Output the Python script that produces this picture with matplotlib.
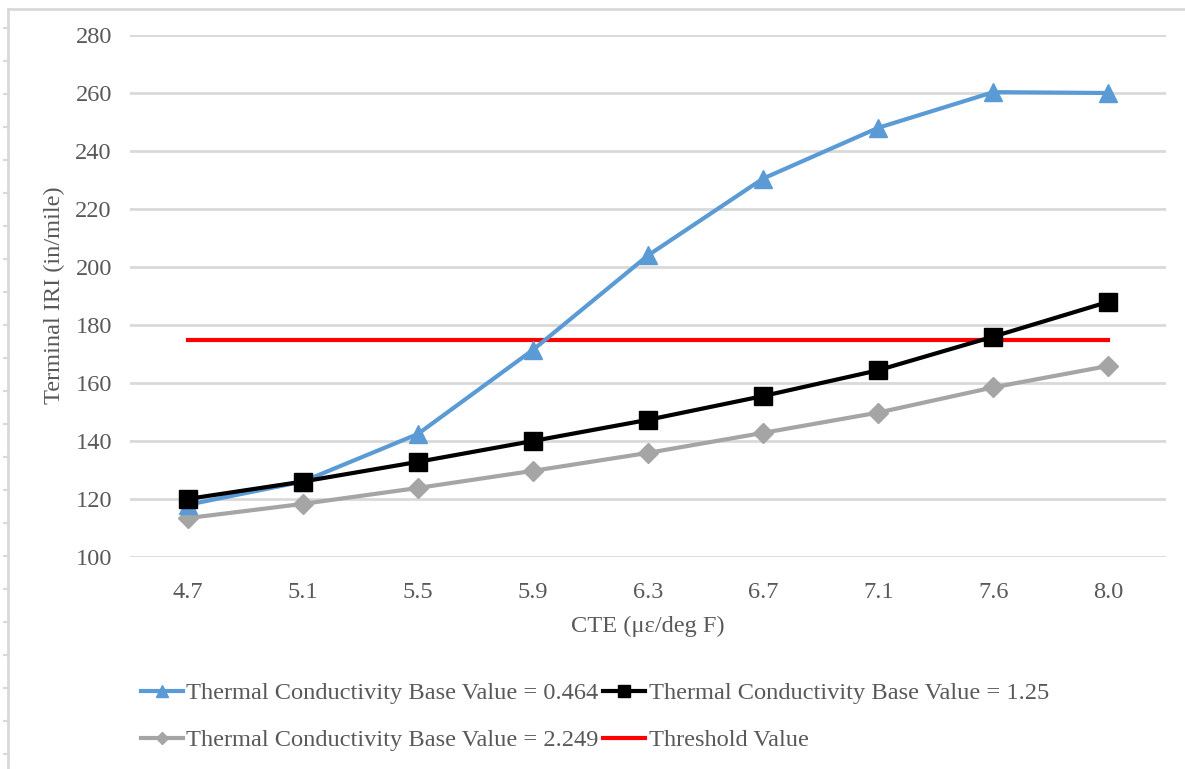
import numpy as np
import matplotlib.pyplot as plt
from matplotlib.lines import Line2D

plt.rcParams['font.family'] = ['Liberation Serif', 'DejaVu Serif']

# data
cte = ['4.7', '5.1', '5.5', '5.9', '6.3', '6.7', '7.1', '7.6', '8.0']
iri_0464 = [118, 126, 142.4, 171.4, 204, 230.5, 248, 260.3, 260]
iri_125 = [120, 126, 132.8, 140, 147.3, 155.5, 164.4, 176, 188]
iri_2249 = [113.4, 118.3, 123.8, 129.7, 135.9, 142.8, 149.8, 158.5, 165.9]
threshold = 174.8
y_ticks = [100, 120, 140, 160, 180, 200, 220, 240, 260, 280]

txt = '#595959'
fs = 17.6
W, H = 1185, 769
fig = plt.figure(figsize=(W / 100, H / 100), dpi=100)
ax = fig.add_axes([130 / W, 1 - 557 / H, (1166 - 130) / W, (557 - 35) / H])

x = np.arange(len(cte))
l1, = ax.plot(x, iri_0464, color='#5b9bd5', lw=3, marker='^', ms=13,
              label='Thermal Conductivity Base Value = 0.464', zorder=3)
l2, = ax.plot(x, iri_125, color='black', lw=3, marker='s', ms=13,
              label='Thermal Conductivity Base Value = 1.25', zorder=4)
l3, = ax.plot(x, iri_2249, color='#a5a5a5', lw=3, marker='D', ms=10,
              label='Thermal Conductivity Base Value = 2.249', zorder=2)
l4, = ax.plot([x[0], x[-1]], [threshold, threshold], color='#ff0000', lw=3,
              label='Threshold Value', zorder=2)

ax.set_xlim(-0.5, len(cte) - 0.5)
ax.set_ylim(100, 280)
ax.set_xticks(x)
ax.set_xticklabels(cte)
ax.set_yticks(y_ticks)
ax.grid(axis='y', color='#d9d9d9', lw=2)
ax.set_axisbelow(True)
for s in ax.spines.values():
    s.set_visible(False)
ax.tick_params(length=0, labelsize=fs, colors=txt)
ax.tick_params(axis='x', pad=18)
ax.tick_params(axis='y', pad=13)
ax.set_xlabel('CTE (\u03bc\u03b5/deg F)', fontsize=fs, color=txt, labelpad=9)
fig.text(54 / W, 1 - 295 / H, 'Terminal IRI (in/mile)', rotation=90, fontsize=fs,
         color=txt, ha='center', va='center')

leg = fig.legend(handles=[l1, l3, l2, l4], ncol=2, loc='upper left',
                 bbox_to_anchor=(141 / W, 1 - 682 / H), frameon=False,
                 fontsize=fs, handlelength=1.7, handletextpad=0.15, markerscale=0.65,
                 columnspacing=0.2, labelspacing=1.02, borderpad=0, borderaxespad=0)
for t in leg.get_texts():
    t.set_color(txt)

# outer frame of the source screenshot
fig.add_artist(Line2D([8 / W, 1], [1 - 9 / H, 1 - 9 / H], color='#d9d9d9', lw=2,
                      transform=fig.transFigure))
fig.add_artist(Line2D([8 / W, 8 / W], [0, 1 - 9 / H], color='#d9d9d9', lw=2,
                      transform=fig.transFigure))
for ty in range(28, H, 33):
    fig.add_artist(Line2D([4 / W, 8 / W], [1 - ty / H, 1 - ty / H], color='#d9d9d9',
                          lw=1.5, transform=fig.transFigure))

fig.savefig('out.png', dpi=100)
